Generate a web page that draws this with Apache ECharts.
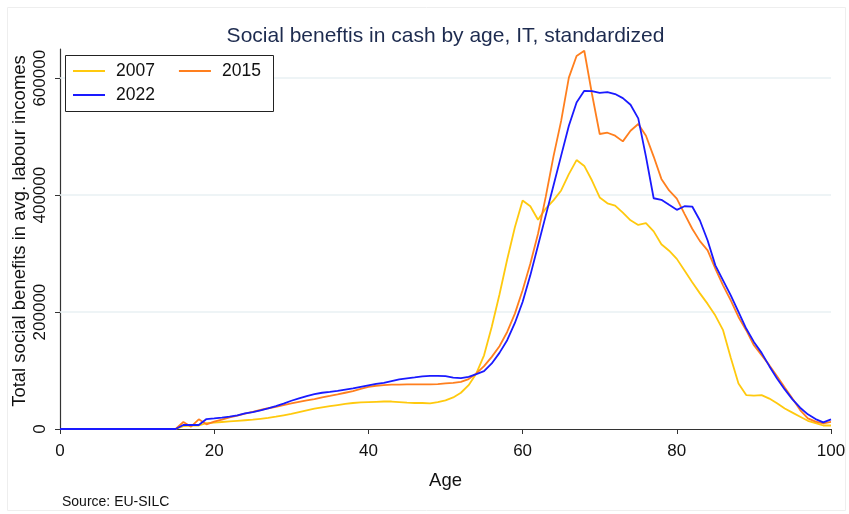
<!DOCTYPE html>
<html>
<head>
<meta charset="utf-8">
<script src="https://cdn.jsdelivr.net/npm/echarts@6/dist/echarts.min.js"></script>
<style>
  html, body { margin: 0; padding: 0; background: #ffffff; }
  #chart { width: 849px; height: 514px; }
</style>
</head>
<body>
<div id="chart"></div>
<script>
// Social benefits in cash by age (0-100), Italy, three survey years
const seriesNames = ['2007', '2015', '2022'];
const yTicks = [0, 200000, 400000, 600000];

const y2007 = [
  0, 0, 0, 0, 0, 0, 0, 0, 0, 0, 0, 0, 0, 0, 0, 0,
  5000, 6000, 6000, 10000, 11000, 12000, 13000, 14000, 15000, 16000,
  17500, 19000, 21000, 23500, 26000, 29000, 32000, 35000, 37000, 39000,
  41000, 43000, 44500, 45500, 46000, 46500, 47000, 47000, 46000, 45000,
  44500, 44500, 44000, 46000, 49000, 54000, 62000, 75000, 95000, 126000,
  175000, 230000, 290000, 345000, 391000, 381000, 358000, 377000, 391000, 408000,
  436000, 460000, 450000, 425000, 396000, 386000, 382000, 370000, 357000, 349000,
  352000, 338000, 316000, 305000, 291000, 271000, 251000, 232000, 214000, 194000,
  169000, 122000, 78000, 58000, 57000, 58000, 52000, 44000, 35000, 28000,
  21000, 14000, 10000, 6000, 6000
];

const y2015 = [
  0, 0, 0, 0, 0, 0, 0, 0, 0, 0, 0, 0, 0, 0, 0, 0,
  12000, 4000, 16500, 8000, 12500, 16000, 20000, 23000, 26500, 29500,
  32500, 35500, 38000, 41000, 43800, 46500, 49000, 51200, 54000, 56500,
  59200, 62000, 64800, 68500, 72000, 74000, 75000, 75800, 76000, 76300,
  76500, 76500, 76300, 76800, 78000, 79000, 80500, 85300, 95000, 107500,
  123400, 141600, 166000, 197400, 237200, 282700, 334000, 397000, 466000, 527000,
  601000, 638000, 647000, 573000, 504600, 506800, 501700, 492000, 510200, 521700,
  501700, 466000, 427800, 408000, 394000, 368000, 342500, 321400, 305500, 274200,
  245700, 220100, 191700, 169000, 143300, 126300, 109200, 90400, 71100, 52300,
  32400, 18200, 12500, 9700, 12000
];

const y2022 = [
  0, 0, 0, 0, 0, 0, 0, 0, 0, 0, 0, 0, 0, 0, 0, 0,
  6800, 6800, 6800, 17000, 18200, 19500, 21000, 23500, 26800, 29000,
  32000, 35300, 39200, 43500, 48300, 52500, 56300, 59500, 62000, 63500,
  65400, 67500, 69400, 72000, 74500, 77000, 79000, 82000, 84800, 86500,
  88200, 90000, 91000, 90800, 90400, 88000, 87000, 89300, 93900, 99000,
  112100, 130200, 151900, 181400, 217200, 262800, 314000, 365000, 416000, 467600,
  518800, 558600, 578500, 578000, 575100, 576300, 572900, 566000, 554600, 531300,
  466000, 394700, 392000, 383400, 374900, 381000, 380500, 356700, 322500, 279900,
  254300, 228700, 200200, 171800, 149000, 130200, 107500, 86500, 67700, 50700,
  36400, 25100, 17000, 11400, 16500
];

const colors = ['#ffc90e', '#ff7f1e', '#1a1aff'];
const font = "'Liberation Sans', Arial, sans-serif";
const ink = '#111111';

function pairs(values) {
  return values.map((v, age) => [age, v]);
}

const chart = echarts.init(document.getElementById('chart'), null, { renderer: 'canvas' });

const lineSeries = [y2007, y2015, y2022].map((vals, i) => ({
  name: seriesNames[i],
  type: 'line',
  data: pairs(vals),
  symbol: 'none',
  smooth: false,
  z: 3 + i,
  lineStyle: { color: colors[i], width: 1.8 },
  itemStyle: { color: colors[i] }
}));

// Horizontal reference lines at the labelled y ticks (above zero)
lineSeries[0].markLine = {
  silent: true,
  symbol: 'none',
  label: { show: false },
  lineStyle: { color: '#e9f0f3', width: 1.5, type: 'solid' },
  z: 1,
  data: yTicks.filter(v => v > 0).map(v => ({ yAxis: v }))
};

const legendCommon = {
  orient: 'horizontal',
  icon: 'rect',
  itemWidth: 32,
  itemHeight: 2,
  itemGap: 24,
  textStyle: { fontFamily: font, fontSize: 17.5, color: ink, padding: [0, 0, 0, 6] },
  padding: 0
};

chart.setOption({
  animation: false,
  backgroundColor: '#ffffff',
  color: colors,
  graphic: [
    {
      type: 'rect',
      left: 5, top: 5,
      shape: { width: 838, height: 503 },
      style: { fill: 'none', stroke: '#eeeeee', lineWidth: 1 },
      silent: true
    },
    {
      // Title, centred over the plot area
      type: 'text',
      x: 445.5,
      y: 36,
      style: {
        text: 'Social beneftis in cash by age, IT, standardized',
        fontFamily: font, fontSize: 21, fill: '#1d2b4f',
        align: 'center', verticalAlign: 'middle'
      },
      silent: true
    },
    {
      type: 'rect',
      left: 65, top: 55,
      shape: { width: 208, height: 56 },
      style: { fill: '#ffffff', stroke: '#222222', lineWidth: 1 },
      z: 10,
      silent: true
    },
    {
      type: 'text',
      x: 20,
      y: 231,
      rotation: Math.PI / 2,
      style: {
        text: 'Total social benefits in avg. labour incomes',
        fontFamily: font, fontSize: 18.5, fill: ink,
        align: 'center', verticalAlign: 'middle'
      },
      silent: true
    },
    {
      type: 'text',
      left: 62,
      top: 495,
      style: { text: 'Source: EU-SILC', fontFamily: font, fontSize: 14, fill: ink },
      silent: true
    }
  ],
  legend: [
    Object.assign({}, legendCommon, { data: ['2007', '2015'], left: 73, top: 62, z: 20 }),
    Object.assign({}, legendCommon, { data: ['2022'], left: 73, top: 86, z: 20 })
  ],
  grid: { left: 60, right: 18, top: 49, bottom: 85, containLabel: false },
  xAxis: {
    type: 'value',
    min: 0,
    max: 100,
    interval: 20,
    name: 'Age',
    nameLocation: 'middle',
    nameGap: 42,
    nameTextStyle: { fontFamily: font, fontSize: 18.5, color: ink },
    axisLine: { show: true, lineStyle: { color: '#333333', width: 1.2 } },
    axisTick: { show: true, length: 5, lineStyle: { color: '#333333' } },
    axisLabel: { fontFamily: font, fontSize: 17, color: ink, margin: 14 },
    splitLine: { show: false }
  },
  yAxis: {
    type: 'value',
    min: 0,
    max: 650000,
    interval: 200000,
    axisLine: { show: true, lineStyle: { color: '#333333', width: 1.2 } },
    axisTick: { show: true, length: 5, lineStyle: { color: '#333333' }, customValues: yTicks },
    axisLabel: {
      fontFamily: font, fontSize: 17, color: ink, margin: 11,
      rotate: 90, customValues: yTicks,
      formatter: v => String(v)
    },
    splitLine: { show: false }
  },
  series: lineSeries
});
</script>
</body>
</html>
